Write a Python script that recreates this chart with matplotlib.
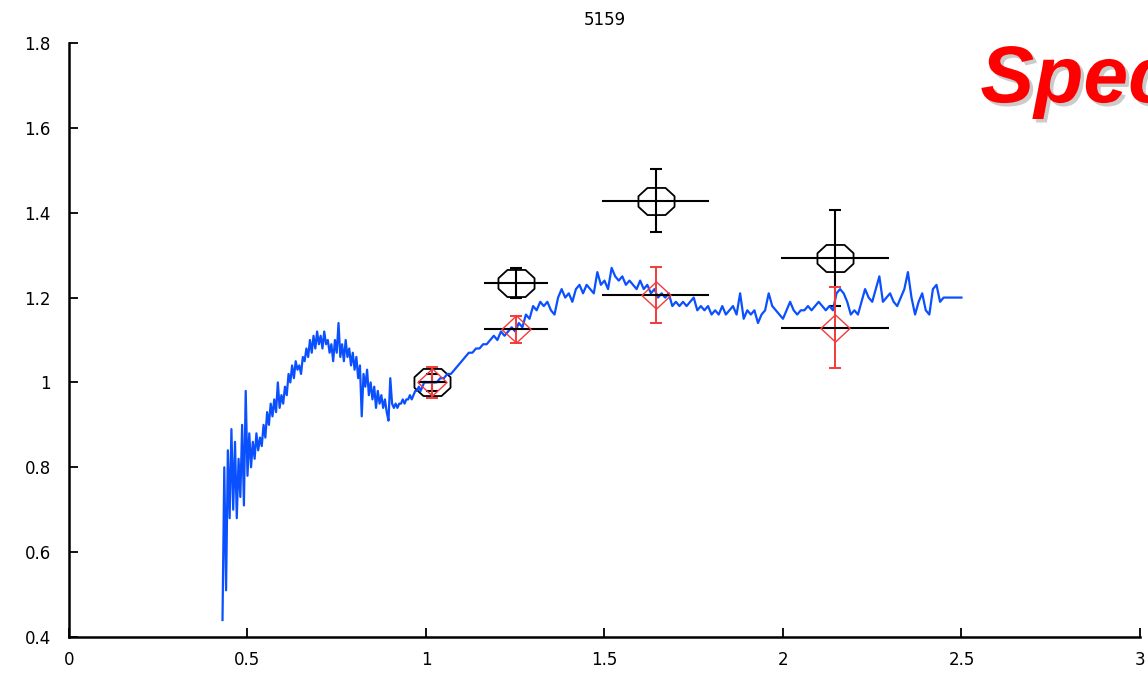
import numpy as np
import matplotlib.pyplot as plt
import matplotlib.patheffects as pe
from matplotlib.path import Path

plt.rcParams['font.family'] = ['DejaVu Sans']

# spectrum, fine grid on the blue end, coarser on the red end
wave_a = np.round(np.arange(0.430, 0.9951, 0.005), 3)
flux_a = [
    0.44, 0.80, 0.51, 0.84, 0.68, 0.89, 0.70, 0.86, 0.68, 0.82,
    0.73, 0.90, 0.71, 0.98, 0.78, 0.88, 0.80, 0.86, 0.82, 0.88,
    0.84, 0.87, 0.85, 0.90, 0.87, 0.93, 0.90, 0.95, 0.92, 0.96,
    0.93, 1.00, 0.94, 0.97, 0.95, 0.99, 0.97, 1.02, 1.00, 1.04,
    1.01, 1.05, 1.03, 1.04, 1.02, 1.06, 1.05, 1.08, 1.06, 1.10,
    1.07, 1.11, 1.08, 1.12, 1.09, 1.11, 1.08, 1.12, 1.09, 1.10,
    1.07, 1.09, 1.05, 1.10, 1.07, 1.14, 1.06, 1.09, 1.05, 1.10,
    1.06, 1.08, 1.04, 1.07, 1.03, 1.06, 1.01, 1.04, 0.92, 1.02,
    0.99, 1.03, 0.97, 1.00, 0.96, 0.99, 0.94, 0.98, 0.95, 0.97,
    0.94, 0.96, 0.93, 0.91, 1.01, 0.95, 0.94, 0.95, 0.94, 0.95,
    0.95, 0.96, 0.95, 0.96, 0.96, 0.97, 0.96, 0.97, 0.98, 0.98,
    0.99, 0.98, 0.99, 1.00,
]
wave_b = np.round(np.arange(1.00, 2.5001, 0.01), 2)
flux_b = [
    1.00, 1.00, 1.00, 1.00, 1.01, 1.01, 1.02, 1.02, 1.03, 1.04,
    1.05, 1.06, 1.07, 1.07, 1.08, 1.08, 1.09, 1.09, 1.10, 1.11,
    1.10, 1.12, 1.11, 1.12, 1.13, 1.12, 1.14, 1.13, 1.16, 1.15,
    1.18, 1.17, 1.19, 1.18, 1.19, 1.17, 1.16, 1.20, 1.22, 1.20,
    1.21, 1.19, 1.22, 1.23, 1.21, 1.23, 1.22, 1.21, 1.26, 1.23,
    1.24, 1.22, 1.27, 1.25, 1.24, 1.25, 1.23, 1.24, 1.23, 1.22,
    1.24, 1.22, 1.23, 1.21, 1.22, 1.20, 1.21, 1.20, 1.21, 1.18,
    1.19, 1.18, 1.19, 1.18, 1.19, 1.20, 1.17, 1.18, 1.17, 1.18,
    1.16, 1.17, 1.16, 1.18, 1.16, 1.17, 1.18, 1.16, 1.21, 1.15,
    1.17, 1.16, 1.17, 1.14, 1.16, 1.17, 1.21, 1.18, 1.17, 1.16,
    1.15, 1.17, 1.19, 1.17, 1.16, 1.17, 1.17, 1.18, 1.17, 1.18,
    1.19, 1.18, 1.17, 1.18, 1.17, 1.21, 1.22, 1.21, 1.19, 1.16,
    1.17, 1.16, 1.19, 1.22, 1.20, 1.19, 1.22, 1.25, 1.19, 1.20,
    1.21, 1.19, 1.18, 1.20, 1.22, 1.26, 1.20, 1.16, 1.19, 1.21,
    1.17, 1.16, 1.22, 1.23, 1.19, 1.20, 1.20, 1.20, 1.20, 1.20,
    1.20,
]

# band photometry (black) and synthetic photometry (red)
band_x = [1.017, 1.252, 1.643, 2.146]
band_xerr = [0.04, 0.09, 0.15, 0.152]
phot_y = [1.00, 1.235, 1.428, 1.294]
phot_yerr = [0.02, 0.035, 0.074, 0.113]
synth_y = [1.00, 1.125, 1.206, 1.129]
synth_yerr = [0.036, 0.032, 0.066, 0.095]

xticks = [0, 0.5, 1, 1.5, 2, 2.5, 3]
xtick_labels = ['0', '0.5', '1', '1.5', '2', '2.5', '3']
yticks = [0.4, 0.6, 0.8, 1.0, 1.2, 1.4, 1.6, 1.8]
ytick_labels = ['0.4', '0.6', '0.8', '1', '1.2', '1.4', '1.6', '1.8']

# flattened diamond (octagon) and plain diamond markers
octa = Path([(-1, -0.29), (-1, 0.29), (-0.5, 0.75), (0.5, 0.75),
             (1, 0.29), (1, -0.29), (0.5, -0.75), (-0.5, -0.75), (-1, -0.29)],
            closed=True)
dmnd = Path([(-1, 0), (0, 0.93), (1, 0), (0, -0.93), (-1, 0)], closed=True)

fig = plt.figure(figsize=(11.48, 6.73), dpi=100)
ax = fig.add_axes([0.0601, 0.0535, 0.9329, 0.8826])

blue = '#0a50ff'
ax.plot(wave_a, flux_a, color=blue, lw=1.6, zorder=3)
ax.plot(wave_b, flux_b, color=blue, lw=1.6, zorder=3)
ax.plot([wave_a[-1], wave_b[0]], [flux_a[-1], flux_b[0]], color=blue, lw=1.6, zorder=3)

red = '#f23a3a'
ax.errorbar(band_x, synth_y, yerr=synth_yerr, fmt='none', ecolor=red,
            elinewidth=1.4, capsize=4, capthick=1.4, zorder=4)
ax.errorbar(band_x, synth_y, xerr=band_xerr, fmt='none', ecolor='black',
            elinewidth=1.5, capsize=0, zorder=4)
ax.plot(band_x, synth_y, ls='none', marker=dmnd, ms=21, mfc='none',
        mec=red, mew=1.0, zorder=4)

ax.errorbar(band_x, phot_y, yerr=phot_yerr, fmt='none', ecolor='black',
            elinewidth=1.5, capsize=4, capthick=1.5, zorder=2)
ax.errorbar(band_x, phot_y, xerr=band_xerr, fmt='none', ecolor='black',
            elinewidth=1.5, capsize=0, zorder=2)
ax.plot(band_x, phot_y, ls='none', marker=octa, ms=26, mfc='none',
        mec='black', mew=1.3, zorder=2)

ax.set_xlim(0, 3)
ax.set_ylim(0.4, 1.8)
ax.set_xticks(xticks)
ax.set_xticklabels(xtick_labels)
ax.set_yticks(yticks)
ax.set_yticklabels(ytick_labels)
ax.tick_params(direction='in', length=6.5, width=1.3, labelsize=12, colors='black')
ax.tick_params(axis='y', pad=13)
ax.tick_params(axis='x', pad=10)
for side in ['top', 'right']:
    ax.spines[side].set_visible(False)
for side in ['left', 'bottom']:
    ax.spines[side].set_linewidth(1.8)
ax.set_title('5159', fontsize=12, pad=13)

fig.text(0.854, 0.848, 'Spectrum', color='#ff0000', fontsize=58,
         family='Liberation Sans', weight='bold', style='italic',
         path_effects=[pe.SimplePatchShadow(offset=(2.5, -2.5), shadow_rgbFace='0.55', alpha=0.45),
                       pe.Normal()])

fig.savefig('out.png', dpi=100)
